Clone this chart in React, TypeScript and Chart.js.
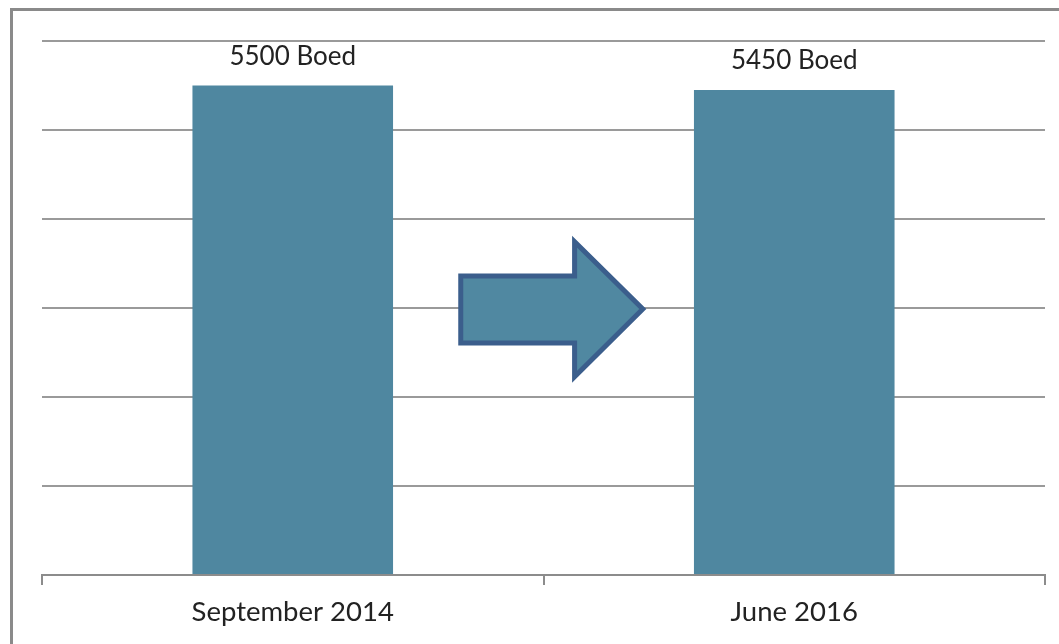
import React, { useEffect, useRef } from "react";
import { Chart, registerables } from "chart.js";

Chart.register(...registerables);

const categories = ["September 2014", "June 2016"];
const values = [5500, 5450];
const valueLabels = ["5500 Boed", "5450 Boed"];
const yTicks = [0, 1000, 2000, 3000, 4000, 5000, 6000];

const FONT = "Lato, 'Liberation Sans', sans-serif";
const BAR_COLOR = "rgb(79,135,160)";
const ARROW_FILL = "rgb(80,136,161)";
const ARROW_STROKE = "rgb(59,94,140)";

const labelPlugin = {
  id: "valueLabels",
  afterDatasetsDraw(chart: any) {
    const ctx = chart.ctx;
    const meta = chart.getDatasetMeta(0);
    ctx.save();
    ctx.fillStyle = "#222";
    ctx.font = `26px ${FONT}`;
    ctx.textAlign = "center";
    ctx.textBaseline = "alphabetic";
    meta.data.forEach((bar: any, i: number) => {
      ctx.fillText(valueLabels[i], bar.x, bar.y - 21);
    });
    ctx.restore();
  },
};

const arrowPlugin = {
  id: "arrowShape",
  afterDatasetsDraw(chart: any) {
    const { ctx, chartArea, scales } = chart;
    const w = chartArea.right - chartArea.left;
    const X = (f: number) => chartArea.left + f * w;
    const Y = (v: number) => scales.y.getPixelForValue(v);
    const x0 = X(0.4175);
    const xh = X(0.531);
    const xt = X(0.599);
    const bodyTop = Y(3360);
    const bodyBot = Y(2607);
    const headTop = Y(3745);
    const headBot = Y(2228);
    const tipY = Y(2989);
    ctx.save();
    ctx.beginPath();
    ctx.moveTo(x0, bodyTop);
    ctx.lineTo(xh, bodyTop);
    ctx.lineTo(xh, headTop);
    ctx.lineTo(xt, tipY);
    ctx.lineTo(xh, headBot);
    ctx.lineTo(xh, bodyBot);
    ctx.lineTo(x0, bodyBot);
    ctx.closePath();
    ctx.fillStyle = ARROW_FILL;
    ctx.fill();
    ctx.lineWidth = 5;
    ctx.lineJoin = "miter";
    ctx.strokeStyle = ARROW_STROKE;
    ctx.stroke();
    ctx.restore();
  },
};

export default function App() {
  const ref = useRef<HTMLCanvasElement | null>(null);
  useEffect(() => {
    if (!ref.current) return;
    const chart = new Chart(ref.current, {
      type: "bar",
      data: {
        labels: categories,
        datasets: [
          {
            data: values,
            backgroundColor: BAR_COLOR,
            borderWidth: 0,
            categoryPercentage: 1,
            barPercentage: 0.4,
          },
        ],
      },
      options: {
        animation: false,
        responsive: false,
        maintainAspectRatio: false,
        layout: { padding: { left: 42, right: 14, top: 41, bottom: 4 } },
        plugins: {
          legend: { display: false },
          tooltip: { enabled: false },
        },
        scales: {
          x: {
            grid: {
              offset: true,
              drawOnChartArea: false,
              drawTicks: true,
              tickLength: 10,
              color: "#8c8c8c",
              lineWidth: 2,
            },
            border: { display: true, color: "#8c8c8c", width: 2 },
            ticks: {
              color: "#222",
              font: { family: FONT, size: 27.5 },
              padding: 11,
              maxRotation: 0,
              autoSkip: false,
            },
          },
          y: {
            min: yTicks[0],
            max: yTicks[yTicks.length - 1],
            afterBuildTicks: (axis: any) => {
              axis.ticks = yTicks.map((v) => ({ value: v }));
            },
            grid: {
              drawTicks: false,
              color: "#9a9a9a",
              lineWidth: 2,
            },
            border: { display: false },
            ticks: { display: false },
          },
        },
      },
      plugins: [labelPlugin, arrowPlugin],
    });
    return () => chart.destroy();
  }, []);

  return (
    <div
      style={{
        position: "fixed",
        left: 0,
        top: 0,
        width: 1059,
        height: 644,
        overflow: "hidden",
        background: "#fff",
      }}
    >
      <div
        style={{
          position: "absolute",
          left: 10,
          top: 8,
          width: 1200,
          height: 800,
          border: "3px solid #8a8a8a",
          boxSizing: "border-box",
        }}
      />
      <canvas
        ref={ref}
        width={1059}
        height={644}
        style={{ position: "absolute", left: 0, top: 0, width: 1059, height: 644 }}
      />
    </div>
  );
}
